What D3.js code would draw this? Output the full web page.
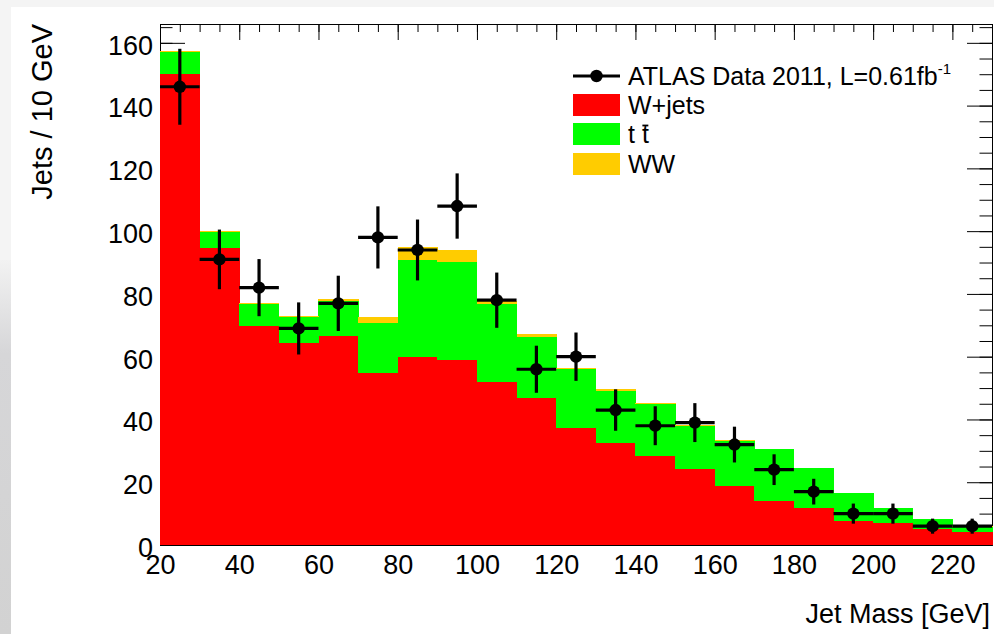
<!DOCTYPE html>
<html>
<head>
<meta charset="utf-8">
<script src="https://cdn.jsdelivr.net/npm/d3@7"></script>
<style>
  body { margin: 0; background: #f4f4f4; }
  svg { display: block; font-family: 'Liberation Sans', Arial, Helvetica, sans-serif; }
</style>
</head>
<body>
<div id="chart"></div>
<script>
// bins (GeV)
const binEdges = [20, 30, 40, 50, 60, 70, 80, 90, 100, 110, 120, 130, 140, 150, 160, 170, 180, 190, 200, 210, 220, 230]

// MC stack (jets / 10 GeV)
const wjets = [150, 94.6, 69.8, 64.5, 66.6, 54.9, 60.0, 59.0, 52.0, 46.9, 37.2, 32.4, 28.4, 24.1, 18.8, 14.0, 11.7, 7.6, 6.9, 5.1, 4.2]
const ttbar = [7.0, 5.1, 6.9, 8.1, 11.2, 15.8, 30.8, 31.2, 24.7, 19.3, 18.9, 16.8, 16.5, 13.9, 14.3, 16.5, 12.7, 8.9, 4.8, 3.2, 1.6]
const ww = [0.5, 0.5, 0.5, 0.4, 0.5, 1.9, 4.1, 3.8, 0.9, 1.1, 0.4, 0.4, 0.4, 0.2, 0.2, 0.1, 0.1, 0.1, 0.1, 0.1, 0.1]

// data points
const dataCounts = [146, 91, 82, 69, 77, 98, 94, 108, 78, 56, 60, 43, 38, 39, 32, 24, 17, 10, 10, 6, 6]
const dataErrors = [12.1, 9.5, 9.1, 8.3, 8.8, 9.9, 9.7, 10.4, 8.8, 7.5, 7.7, 6.6, 6.2, 6.2, 5.7, 4.9, 4.1, 3.2, 3.2, 2.4, 2.4]

// tick labels
const xTickLabels = [20, 40, 60, 80, 100, 120, 140, 160, 180, 200, 220]
const yTickLabels = [0, 20, 40, 60, 80, 100, 120, 140, 160]

const layerNames = ['W+jets', 'ttbar', 'WW']
const layerColors = ['#ff0000', '#00ff00', '#ffcc00']

const width = 994, height = 634
const plot = { left: 160, right: 992, top: 24, bottom: 545 }

const svg = d3.select('#chart')
    .append('svg')
    .attr('width', width)
    .attr('height', height)

// background: light page + white panel, grey strip bottom left
const defs = svg.append('defs')
const grad = defs.append('linearGradient')
    .attr('id', 'strip')
    .attr('x1', 0).attr('y1', 0).attr('x2', 0).attr('y2', 1)
grad.append('stop').attr('offset', '0%').attr('stop-color', '#f2f2f2')
grad.append('stop').attr('offset', '25%').attr('stop-color', '#d6d6d8')
grad.append('stop').attr('offset', '100%').attr('stop-color', '#d2d2d2')

svg.append('rect').attr('width', width).attr('height', height).attr('fill', '#f4f4f4')
svg.append('rect').attr('x', 0).attr('y', 260).attr('width', 11).attr('height', height - 260).attr('fill', 'url(#strip)')
svg.append('rect').attr('x', 11).attr('y', 7).attr('width', width - 11).attr('height', height - 7).attr('fill', '#ffffff')

// scales
const x = d3.scaleLinear().domain([20, 230]).range([plot.left, plot.right])
const y = d3.scaleLinear().domain([0, 166]).range([plot.bottom, plot.top])

const minorX = d3.range(20, 231, 5)
const minorY = d3.range(0, 166, 5)

// axes (drawn first, bars cover the inner ticks like the original)
const axes = svg.append('g')

const clean = g => {
    g.selectAll('.tick line').attr('stroke', '#000').attr('stroke-width', 1)
    g.select('.domain').attr('stroke', '#000').attr('stroke-width', 1)
}

axes.append('g')
    .attr('transform', `translate(0, ${plot.bottom})`)
    .call(d3.axisBottom(x).tickValues(minorX).tickSize(-8).tickSizeOuter(0).tickFormat(''))
    .call(clean)
axes.append('g')
    .attr('transform', `translate(0, ${plot.bottom})`)
    .call(d3.axisBottom(x).tickValues(xTickLabels).tickSize(-16).tickSizeOuter(0).tickPadding(10))
    .call(clean)
    .call(g => g.selectAll('text')
        .attr('font-size', 27)
        .attr('fill', '#000')
        .attr('font-family', "'Liberation Sans', Arial, sans-serif"))

axes.append('g')
    .attr('transform', `translate(0, ${plot.top})`)
    .call(d3.axisTop(x).tickValues(minorX).tickSize(-8).tickSizeOuter(0).tickFormat(''))
    .call(clean)
axes.append('g')
    .attr('transform', `translate(0, ${plot.top})`)
    .call(d3.axisTop(x).tickValues(xTickLabels).tickSize(-16).tickSizeOuter(0).tickFormat(''))
    .call(clean)

axes.append('g')
    .attr('transform', `translate(${plot.left}, 0)`)
    .call(d3.axisLeft(y).tickValues(minorY).tickSize(-12.5).tickSizeOuter(0).tickFormat(''))
    .call(clean)
axes.append('g')
    .attr('transform', `translate(${plot.left}, 0)`)
    .call(d3.axisLeft(y).tickValues(yTickLabels).tickSize(-25).tickSizeOuter(0).tickPadding(7))
    .call(clean)
    .call(g => g.selectAll('text')
        .attr('font-size', 27)
        .attr('fill', '#000')
        .attr('dy', '0.42em')
        .attr('font-family', "'Liberation Sans', Arial, sans-serif"))

axes.append('g')
    .attr('transform', `translate(${plot.right}, 0)`)
    .call(d3.axisRight(y).tickValues(minorY).tickSize(-12.5).tickSizeOuter(0).tickFormat(''))
    .call(clean)
axes.append('g')
    .attr('transform', `translate(${plot.right}, 0)`)
    .call(d3.axisRight(y).tickValues(yTickLabels).tickSize(-25).tickSizeOuter(0).tickFormat(''))
    .call(clean)

// stacked histogram
const rows = wjets.map((d, i) => ({ lo: binEdges[i], hi: binEdges[i + 1], 'W+jets': d, ttbar: ttbar[i], WW: ww[i] }))
const series = d3.stack().keys(layerNames)(rows)

svg.append('g')
    .selectAll('g')
    .data(series)
    .join('g')
    .attr('fill', (d, i) => layerColors[i])
    .selectAll('rect')
    .data(d => d)
    .join('rect')
    .attr('x', d => x(d.data.lo))
    .attr('width', d => x(d.data.hi) - x(d.data.lo) + 0.5)
    .attr('y', d => y(d[1]))
    .attr('height', d => y(d[0]) - y(d[1]))
    .attr('shape-rendering', 'crispEdges')

// data points with error bars
const pts = svg.append('g')
    .selectAll('g')
    .data(dataCounts)
    .join('g')

pts.append('line')
    .attr('x1', (d, i) => x(binEdges[i]))
    .attr('x2', (d, i) => x(binEdges[i + 1]))
    .attr('y1', d => y(d))
    .attr('y2', d => y(d))
    .attr('stroke', '#000')
    .attr('stroke-width', 3.2)

pts.append('line')
    .attr('x1', (d, i) => x((binEdges[i] + binEdges[i + 1]) / 2))
    .attr('x2', (d, i) => x((binEdges[i] + binEdges[i + 1]) / 2))
    .attr('y1', (d, i) => y(d + dataErrors[i]))
    .attr('y2', (d, i) => y(d - dataErrors[i]))
    .attr('stroke', '#000')
    .attr('stroke-width', 3.2)

pts.append('circle')
    .attr('cx', (d, i) => x((binEdges[i] + binEdges[i + 1]) / 2))
    .attr('cy', d => y(d))
    .attr('r', 6.2)
    .attr('fill', '#000')

// legend
const legend = svg.append('g')
    .attr('font-size', 25)
    .attr('fill', '#000')

legend.append('line')
    .attr('x1', 573).attr('x2', 620)
    .attr('y1', 76).attr('y2', 76)
    .attr('stroke', '#000').attr('stroke-width', 3.2)
legend.append('circle')
    .attr('cx', 596.5).attr('cy', 76).attr('r', 6.2).attr('fill', '#000')

const lumi = legend.append('text').attr('x', 628).attr('y', 85)
lumi.append('tspan').text('ATLAS Data 2011, L=0.61fb')
lumi.append('tspan').text('-1').attr('font-size', 15).attr('dy', -11)

const legendRows = [
    { color: layerColors[0], y: 105 },
    { color: layerColors[1], y: 134 },
    { color: layerColors[2], y: 164 }
]
legend.selectAll('rect')
    .data(legendRows)
    .join('rect')
    .attr('x', 573).attr('width', 47)
    .attr('y', d => d.y - 11).attr('height', 22)
    .attr('fill', d => d.color)

legend.append('text').attr('x', 628).attr('y', 114).text('W+jets')
const tt = legend.append('text').attr('x', 628).attr('y', 143).text('t t')
// bar over the second t
const tBox = tt.node().getExtentOfChar(2)
legend.append('line')
    .attr('x1', tBox.x + 0.5).attr('x2', tBox.x + tBox.width - 0.5)
    .attr('y1', 125.5).attr('y2', 125.5)
    .attr('stroke', '#000').attr('stroke-width', 1.8)
legend.append('text').attr('x', 628).attr('y', 173).text('WW')

// axis titles
svg.append('text')
    .attr('x', 990).attr('y', 623)
    .attr('text-anchor', 'end')
    .attr('font-size', 27)
    .text('Jet Mass [GeV]')

svg.append('text')
    .attr('transform', 'translate(52, 24) rotate(-90)')
    .attr('text-anchor', 'end')
    .attr('font-size', 29)
    .text('Jets / 10 GeV')
</script>
</body>
</html>
